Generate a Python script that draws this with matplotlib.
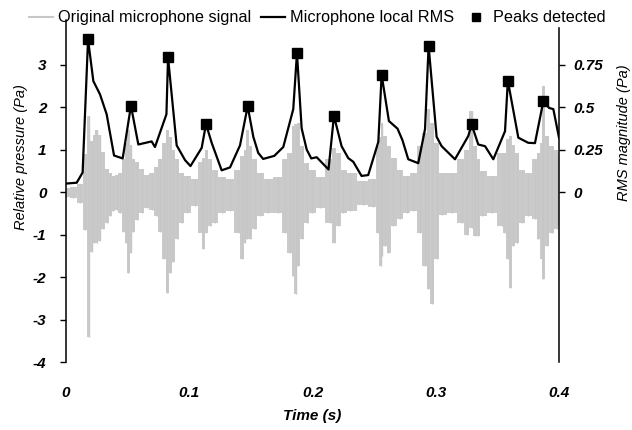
import numpy as np
from matplotlib import pyplot as plt

plt.rcParams['font.family'] = ['Liberation Sans', 'DejaVu Sans']

# microphone signal envelope (Pa)
sig_t = [0.000, 0.006, 0.0115, 0.0155, 0.0185, 0.021, 0.0225, 0.025, 0.0276, 0.030,
         0.033, 0.036, 0.038, 0.041, 0.044, 0.0465, 0.049, 0.0506, 0.0525, 0.0546,
         0.0573, 0.0614, 0.0655, 0.0695, 0.0736, 0.0763, 0.0795, 0.0822, 0.0844, 0.0871,
         0.0898, 0.0938, 0.0979, 0.1047, 0.1101, 0.1114, 0.1136, 0.1168, 0.1209, 0.1263,
         0.1331, 0.1398, 0.1431, 0.1452, 0.1471, 0.1493, 0.1533, 0.1574, 0.1642, 0.1723,
         0.1777, 0.1817, 0.1844, 0.1863, 0.1885, 0.1912, 0.1953, 0.1993, 0.2061, 0.2142,
         0.2174, 0.2209, 0.2250, 0.2304, 0.2412, 0.2493, 0.2534, 0.2553, 0.2561, 0.2588,
         0.2615, 0.2655, 0.2710, 0.2764, 0.2818, 0.2872, 0.2913, 0.2939, 0.2967, 0.3007,
         0.3048, 0.3129, 0.3210, 0.3251, 0.3291, 0.3319, 0.3345, 0.3372, 0.3454, 0.3535,
         0.3562, 0.3583, 0.3602, 0.3629, 0.3656, 0.3697, 0.3751, 0.3805, 0.3832, 0.3859,
         0.3873, 0.3900, 0.3940, 0.3981, 0.4000]
sig_hi = [0.10, 0.12, 0.18, 0.90, 1.80, 1.20, 1.35, 1.45, 1.35, 0.95,
          0.55, 0.45, 0.38, 0.40, 0.45, 0.77, 1.15, 1.45, 1.10, 0.77,
          0.70, 0.55, 0.40, 0.45, 0.60, 0.77, 1.15, 1.45, 1.30, 1.00,
          0.77, 0.45, 0.38, 0.30, 0.70, 0.80, 1.00, 0.77, 0.53, 0.35,
          0.30, 0.53, 0.85, 1.00, 1.47, 1.08, 0.77, 0.45, 0.30, 0.35,
          0.77, 0.93, 1.55, 1.60, 1.63, 1.08, 0.69, 0.53, 0.35, 0.77,
          1.04, 0.93, 0.53, 0.45, 0.25, 0.30, 1.08, 1.30, 1.63, 1.32,
          1.08, 0.80, 0.53, 0.38, 0.45, 1.08, 1.40, 1.95, 1.63, 1.15,
          0.45, 0.45, 0.77, 1.00, 1.90, 1.08, 0.77, 0.50, 0.38, 0.93,
          0.93, 1.24, 1.32, 1.10, 0.93, 0.53, 0.45, 0.77, 0.93, 1.15,
          2.49, 1.32, 1.08, 1.00, 0.90]
sig_lo = [-0.12, -0.15, -0.25, -0.90, -3.40, -1.40, -1.20, -1.20, -1.15, -0.88,
          -0.72, -0.56, -0.45, -0.42, -0.50, -0.95, -1.20, -1.90, -1.43, -0.95,
          -0.65, -0.50, -0.38, -0.42, -0.56, -0.95, -1.58, -2.37, -1.90, -1.65,
          -1.10, -0.72, -0.50, -0.33, -0.96, -1.35, -0.96, -0.80, -0.72, -0.50,
          -0.45, -0.96, -1.58, -1.20, -1.11, -1.10, -0.88, -0.56, -0.49, -0.50,
          -0.96, -1.43, -1.98, -2.41, -1.74, -1.11, -0.72, -0.49, -0.38, -0.72,
          -1.19, -0.80, -0.49, -0.45, -0.30, -0.35, -0.96, -1.74, -1.50, -1.27,
          -1.43, -0.80, -0.64, -0.49, -0.45, -0.96, -1.74, -2.29, -2.64, -1.58,
          -0.55, -0.50, -0.72, -1.00, -0.85, -1.04, -1.04, -0.56, -0.49, -0.80,
          -0.96, -1.58, -2.25, -1.27, -1.19, -0.72, -0.56, -0.64, -1.11, -1.58,
          -2.05, -1.27, -0.96, -0.88, -0.80]

# local RMS (Pa)
rms_t = [0.0000, 0.0087, 0.0135, 0.0179, 0.0222, 0.0276, 0.0330, 0.0390, 0.0460, 0.0527,
         0.0587, 0.0695, 0.0722, 0.0815, 0.0828, 0.0898, 0.0966, 0.1010, 0.1101, 0.1136,
         0.1182, 0.1263, 0.1331, 0.1412, 0.1474, 0.1520, 0.1560, 0.1600, 0.1690, 0.1763,
         0.1844, 0.1874, 0.1912, 0.1953, 0.1990, 0.2034, 0.2130, 0.2174, 0.2236, 0.2290,
         0.2331, 0.2398, 0.2452, 0.2534, 0.2561, 0.2620, 0.2690, 0.2730, 0.2777, 0.2858,
         0.2913, 0.2942, 0.3007, 0.3048, 0.3156, 0.3264, 0.3291, 0.3345, 0.3400, 0.3467,
         0.3562, 0.3585, 0.3670, 0.3750, 0.3805, 0.3873, 0.3920, 0.3954, 0.4000]
rms = [0.050, 0.055, 0.115, 0.898, 0.653, 0.575, 0.458, 0.215, 0.198, 0.508,
       0.280, 0.298, 0.265, 0.458, 0.793, 0.275, 0.188, 0.153, 0.260, 0.400,
       0.290, 0.128, 0.145, 0.275, 0.505, 0.325, 0.230, 0.195, 0.213, 0.265,
       0.488, 0.818, 0.375, 0.250, 0.198, 0.205, 0.133, 0.448, 0.270, 0.200,
       0.178, 0.095, 0.100, 0.295, 0.690, 0.418, 0.373, 0.305, 0.193, 0.170,
       0.370, 0.860, 0.325, 0.270, 0.193, 0.330, 0.398, 0.280, 0.270, 0.193,
       0.358, 0.655, 0.320, 0.290, 0.288, 0.535, 0.495, 0.488, 0.320]

peak_t = [0.0179, 0.0527, 0.0828, 0.1136, 0.1474, 0.1874, 0.2174, 0.2561, 0.2942, 0.3291, 0.3585, 0.3873]
peak_rms = [0.898, 0.508, 0.793, 0.400, 0.505, 0.818, 0.448, 0.690, 0.860, 0.398, 0.655, 0.535]

fig = plt.figure(figsize=(6.32, 4.30), dpi=100)
ax = fig.add_axes([0.1044, 0.1581, 0.7801, 0.7954])
ax2 = ax.twinx()

ax.fill_between(sig_t, sig_lo, sig_hi, step='mid', color='#cacaca', lw=0)
ax.vlines(sig_t, sig_lo, sig_hi, color='#c6c6c6', lw=1)
ax.plot([], [], color='#c8c8c8', lw=1.5, label='Original microphone signal')
ax2.plot(rms_t, rms, color='black', lw=1.6, label='Microphone local RMS')
ax2.plot(peak_t, peak_rms, 's', color='black', ms=7, label='Peaks detected')

ax.set_xlim(0, 0.4)
ax.set_ylim(-4, 4.05)
ax2.set_ylim(-1, 4.05 / 4)

tickfont = dict(fontsize=11, fontweight='bold', fontstyle='italic')
ax.set_xticks([0, 0.1, 0.2, 0.3, 0.4])
ax.set_xticklabels(['0', '0.1', '0.2', '0.3', '0.4'], **tickfont)
ax.set_yticks([-4, -3, -2, -1, 0, 1, 2, 3])
ax.set_yticklabels(['-4', '-3', '-2', '-1', '0', '1', '2', '3'], **tickfont)
ax2.set_yticks([0, 0.25, 0.5, 0.75])
ax2.set_yticklabels(['0', '0.25', '0.5', '0.75'], **tickfont)

ax.tick_params(axis='x', length=0, pad=17)
ax.tick_params(axis='y', length=4, width=1, pad=10)
ax2.tick_params(axis='y', length=4, width=1, pad=6)

for a in (ax, ax2):
    a.spines['top'].set_visible(False)
    a.spines['bottom'].set_visible(False)
ax.spines['right'].set_visible(False)
ax2.spines['left'].set_visible(False)
ax.spines['left'].set_bounds(-4, 4.05)
ax2.spines['right'].set_bounds(-1, 0.965)
ax.spines['left'].set_linewidth(1.1)
ax2.spines['right'].set_linewidth(1.1)

ax.set_xlabel('Time (s)', fontsize=11, fontweight='bold', fontstyle='italic', labelpad=7)
ax.set_ylabel('Relative pressure (Pa)', fontsize=10.5, fontstyle='italic')
ax.yaxis.set_label_coords(-0.078, 0.60)
ax2.set_ylabel('RMS magnitude (Pa)', fontsize=10.5, fontstyle='italic', rotation=90)
ax2.yaxis.set_label_coords(1.117, 0.67)

h1, l1 = ax.get_legend_handles_labels()
h2, l2 = ax2.get_legend_handles_labels()
fig.legend(h1 + h2, l1 + l2, loc='upper center', bbox_to_anchor=(0.502, 1.01), ncol=3,
           frameon=False, fontsize=11.7, handlelength=1.5, handletextpad=0.3,
           columnspacing=0.6, markerscale=0.8)

fig.savefig('out.png', dpi=100)
